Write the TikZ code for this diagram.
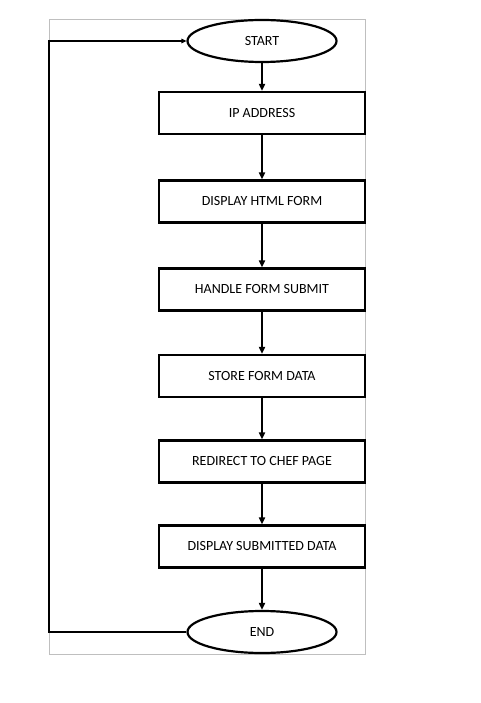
\documentclass[tikz,border=0pt]{standalone}
\usepackage{fontspec}
\setmainfont{Carlito}
\usetikzlibrary{shapes.geometric,arrows.meta}
\begin{document}
\begin{tikzpicture}[x=1pt,y=-1pt,
  box/.style={draw=black,line width=2.2pt,rectangle,minimum width=206pt,minimum height=42pt,inner sep=0pt,font=\fontsize{14pt}{16pt}\selectfont},
  oval/.style={draw=black,line width=2.2pt,ellipse,minimum width=149pt,minimum height=42pt,inner sep=0pt,font=\fontsize{14pt}{16pt}\selectfont},
  flow/.style={draw=black,line width=2pt,-{Triangle[length=7pt,width=6pt]}},
  loop/.style={draw=black,line width=1.5pt,-{Triangle[length=5pt,width=4.5pt]}}]
\useasboundingbox (0,0) rectangle (481,703);
\draw[gray!50,line width=0.8pt] (49,19) rectangle (365,654);
\node[oval] (start) at (262,41) {START};
\node[box] (ip) at (262,113) {IP ADDRESS};
\node[box] (dhf) at (262,201.5) {DISPLAY HTML FORM};
\node[box] (hfs) at (262,289.5) {HANDLE FORM SUBMIT};
\node[box] (sfd) at (262,376) {STORE FORM DATA};
\node[box] (rcp) at (262,461.5) {REDIRECT TO CHEF PAGE};
\node[box] (dsd) at (262,546.5) {DISPLAY SUBMITTED DATA};
\node[oval] (end) at (262,632) {END};
\coordinate (c1) at (49,632);
\coordinate (c2) at (49,41);
\draw[flow] (start) -- (ip);
\draw[flow] (ip) -- (dhf);
\draw[flow] (dhf) -- (hfs);
\draw[flow] (hfs) -- (sfd);
\draw[flow] (sfd) -- (rcp);
\draw[flow] (rcp) -- (dsd);
\draw[flow] (dsd) -- (end);
\draw[loop] (end.west) -- (c1) -- (c2) -- (start.west);
\end{tikzpicture}
\end{document}
